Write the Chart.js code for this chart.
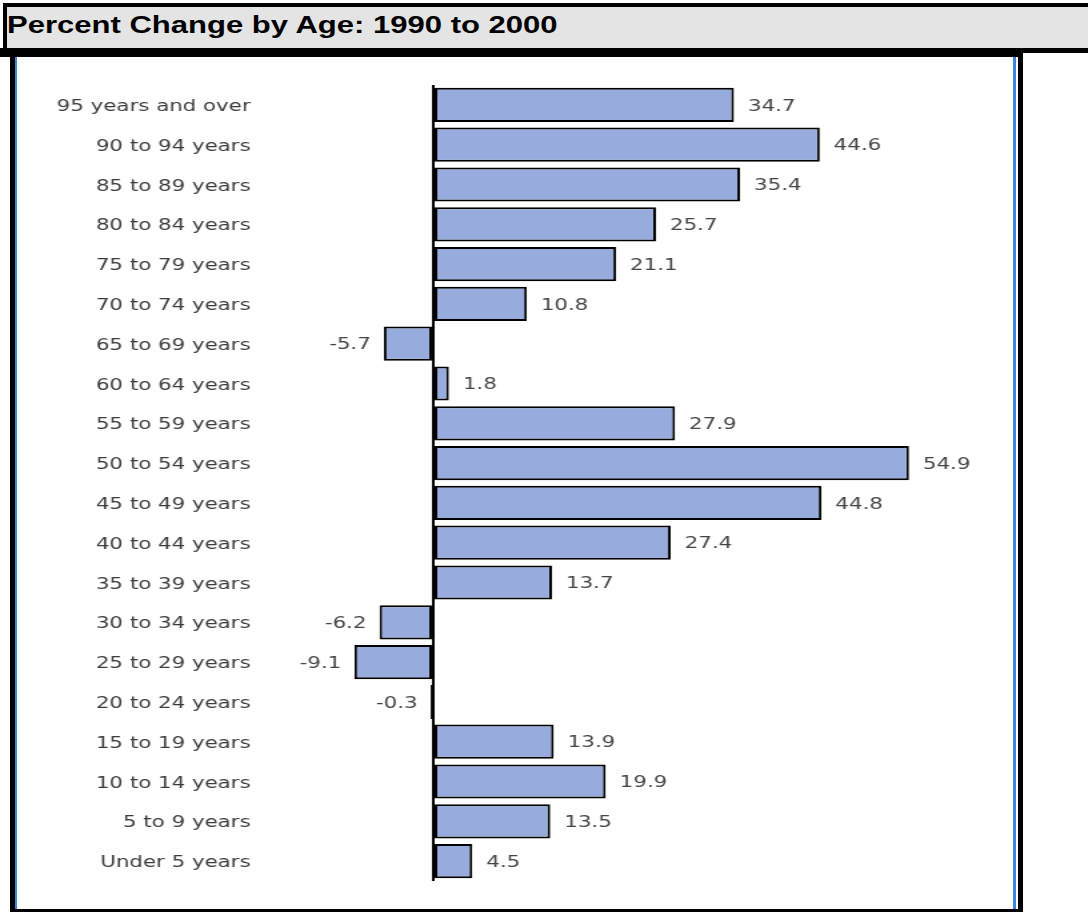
<!DOCTYPE html>
<html>
<head>
<meta charset="utf-8">
<script src="https://cdn.jsdelivr.net/npm/chart.js@4.4.1/dist/chart.umd.min.js"></script>
<style>
  html, body { margin: 0; padding: 0; background: #ffffff; }
  body { width: 1088px; height: 912px; position: relative; overflow: hidden; }
  .blk { position: absolute; background: #000000; }
  .blue { position: absolute; background: #3d86d6; }
  #hdr { position: absolute; left: 7px; top: 7px; width: 1081px; height: 41px; background: #e4e4e4; }
  #title {
    position: absolute; left: 7px; top: 13px; margin: 0;
    font: bold 23.5px "Liberation Sans", Arial, sans-serif; line-height: 24px;
    color: #000000; white-space: nowrap;
    transform: scaleX(1.32); transform-origin: 0 0;
  }
  #wrap {
    position: absolute; left: 0; top: 0; width: 816px; height: 912px;
    transform: scaleX(1.3333); transform-origin: 0 0; pointer-events: none;
  }
</style>
</head>
<body>
<!-- header strip -->
<div id="hdr"></div>
<div class="blk" style="left:3px;top:3px;width:1085px;height:4px;"></div>
<div class="blk" style="left:3px;top:3px;width:4px;height:45px;"></div>
<div class="blk" style="left:0;top:48px;width:1088px;height:5px;"></div>
<div class="blk" style="left:0;top:53px;width:1023px;height:4px;"></div>
<div id="title">Percent Change by Age: 1990 to 2000</div>
<!-- chart panel frame -->
<div class="blk" style="left:10px;top:53px;width:5px;height:859px;"></div>
<div class="blue" style="left:15px;top:57px;width:2px;height:852px;"></div>
<div class="blue" style="left:1013px;top:57px;width:3px;height:852px;"></div>
<div class="blk" style="left:1018px;top:53px;width:5px;height:859px;"></div>
<div class="blk" style="left:10px;top:909px;width:1013px;height:3px;"></div>

<div id="wrap"><canvas id="c"></canvas></div>

<script>
// Age groups, top to bottom
const ageGroups = [
  '95 years and over', '90 to 94 years', '85 to 89 years', '80 to 84 years',
  '75 to 79 years', '70 to 74 years', '65 to 69 years', '60 to 64 years',
  '55 to 59 years', '50 to 54 years', '45 to 49 years', '40 to 44 years',
  '35 to 39 years', '30 to 34 years', '25 to 29 years', '20 to 24 years',
  '15 to 19 years', '10 to 14 years', '5 to 9 years', 'Under 5 years'
];

// Percent change 1990 to 2000
const pctChange = [
  34.7, 44.6, 35.4, 25.7,
  21.1, 10.8, -5.7, 1.8,
  27.9, 54.9, 44.8, 27.4,
  13.7, -6.2, -9.1, -0.3,
  13.9, 19.9, 13.5, 4.5
];

const labelFont = { family: '"DejaVu Sans", Verdana, sans-serif', size: 16 };

// Writes each bar's value just past its end
const valueLabels = {
  id: 'valueLabels',
  afterDatasetsDraw(chart) {
    const ctx = chart.ctx;
    const meta = chart.getDatasetMeta(0);
    ctx.save();
    ctx.font = '16px "DejaVu Sans", Verdana, sans-serif';
    ctx.fillStyle = '#444444';
    ctx.textBaseline = 'middle';
    meta.data.forEach((bar, i) => {
      const v = pctChange[i];
      const txt = v.toFixed(1);
      if (v >= 0) {
        ctx.textAlign = 'left';
        ctx.fillText(txt, bar.x + 10.5, bar.y + 1.5);
      } else {
        ctx.textAlign = 'right';
        ctx.fillText(txt, bar.x - 9.8, bar.y + 1.5);
      }
    });
    ctx.restore();
  }
};

new Chart(document.getElementById('c'), {
  type: 'bar',
  data: {
    labels: ageGroups,
    datasets: [{
      data: pctChange,
      backgroundColor: '#97acdc',
      borderColor: '#000000',
      borderWidth: 2,
      borderSkipped: false,
      barPercentage: 0.86,
      categoryPercentage: 1.0
    }]
  },
  options: {
    indexAxis: 'y',
    responsive: true,
    maintainAspectRatio: false,
    animation: false,
    layout: { padding: { top: 85, bottom: 31, left: 0, right: 66 } },
    plugins: {
      legend: { display: false },
      tooltip: { enabled: false },
      title: { display: false }
    },
    scales: {
      x: {
        type: 'linear',
        min: -20,
        max: 65.4,
        ticks: { display: false, stepSize: 10 },
        border: { display: false },
        grid: {
          drawTicks: false,
          color: (c) => (c.tick && c.tick.value === 0 ? '#000000' : 'rgba(0,0,0,0)'),
          lineWidth: (c) => (c.tick && c.tick.value === 0 ? 2 : 0)
        },
        afterFit: (s) => { s.height = 0; }
      },
      y: {
        type: 'category',
        offset: true,
        ticks: { color: '#3c3c3c', font: labelFont, padding: 7, autoSkip: false, labelOffset: 2 },
        border: { display: false },
        grid: { display: false, drawTicks: false },
        afterFit: (s) => { s.width = 195; }
      }
    }
  },
  plugins: [valueLabels]
});
</script>
</body>
</html>
